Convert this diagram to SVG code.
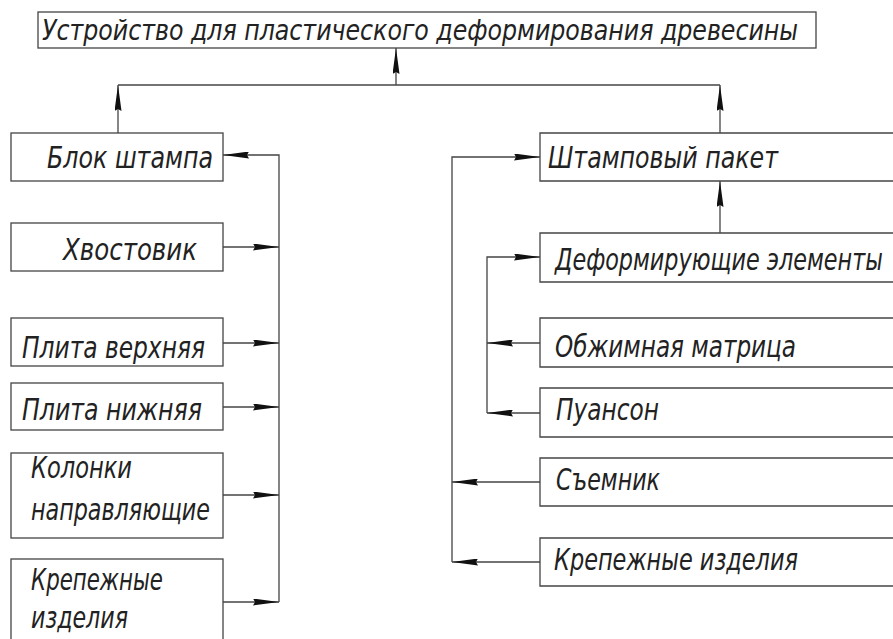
<svg xmlns="http://www.w3.org/2000/svg" width="893" height="639" viewBox="0 0 893 639">
<style>
.box{fill:#fff;stroke:#444;stroke-width:1.3}
.t{font-family:"DejaVu Sans Condensed","DejaVu Sans",sans-serif;font-style:italic;font-size:31px;fill:#222}
.tt{font-size:28px}
.c{fill:none;stroke:#444;stroke-width:1.3}
.a{marker-end:url(#ah)}
</style>
<defs>
<marker id="ah" markerUnits="userSpaceOnUse" viewBox="0 0 26 7" refX="26" refY="3.5" markerWidth="26" markerHeight="7" orient="auto">
<path d="M0,0 L26,3.5 L0,7 L2,3.5 z" fill="#111"/>
</marker>
</defs>
<rect width="893" height="639" fill="#fff"/>
<g id="connectors">
<path class="c a" d="M396,85 V48"/>
<path class="c" d="M118,85 H720"/>
<path class="c a" d="M118,133 V85"/>
<path class="c a" d="M720,133 V85"/>
<path class="c a" d="M279,602 V155 H223"/>
<path class="c a" d="M223,247 H279"/>
<path class="c a" d="M223,343 H279"/>
<path class="c a" d="M223,407 H279"/>
<path class="c a" d="M223,495 H279"/>
<path class="c a" d="M223,602 H279"/>
<path class="c a" d="M720,233 V181"/>
<path class="c a" d="M452,562 V157 H540"/>
<path class="c a" d="M540,562 H452"/>
<path class="c a" d="M540,482 H452"/>
<path class="c a" d="M487,413 V257 H540"/>
<path class="c a" d="M540,343 H487"/>
<path class="c a" d="M540,413 H487"/>
</g>
<g id="title"><rect class="box" x="38" y="12" width="778" height="36"/><text class="t tt" x="42" y="40" textLength="756" lengthAdjust="spacingAndGlyphs">Устройство для пластического деформирования древесины</text></g>
<g id="blok"><rect class="box" x="11" y="133" width="212" height="48"/><text class="t" x="47" y="168" textLength="166" lengthAdjust="spacingAndGlyphs">Блок штампа</text></g>
<g id="hvostovik"><rect class="box" x="11" y="223" width="212" height="48"/><text class="t" x="63" y="260" textLength="134" lengthAdjust="spacingAndGlyphs">Хвостовик</text></g>
<g id="plita-verh"><rect class="box" x="11" y="318" width="212" height="48"/><text class="t" x="22" y="358" textLength="183" lengthAdjust="spacingAndGlyphs">Плита верхняя</text></g>
<g id="plita-niz"><rect class="box" x="11" y="383" width="212" height="47"/><text class="t" x="22" y="420" textLength="180" lengthAdjust="spacingAndGlyphs">Плита нижняя</text></g>
<g id="kolonki"><rect class="box" x="11" y="453" width="212" height="85"/><text class="t" x="31" y="478" textLength="101" lengthAdjust="spacingAndGlyphs">Колонки</text><text class="t" x="31" y="520" textLength="179" lengthAdjust="spacingAndGlyphs">направляющие</text></g>
<g id="krep-left"><rect class="box" x="11" y="559" width="212" height="100"/><text class="t" x="31" y="590" textLength="132" lengthAdjust="spacingAndGlyphs">Крепежные</text><text class="t" x="31" y="628" textLength="97" lengthAdjust="spacingAndGlyphs">изделия</text></g>
<g id="paket"><path class="box" d="M893,133 H540 V181 H893"/><text class="t" x="548" y="168" textLength="230" lengthAdjust="spacingAndGlyphs">Штамповый пакет</text></g>
<g id="deform"><path class="box" d="M893,233 H540 V282 H893"/><text class="t" transform="translate(555,270) scale(0.8,1)">Деформирующие элементы</text></g>
<g id="matrica"><path class="box" d="M893,318 H540 V367 H893"/><text class="t" x="555" y="357" textLength="241" lengthAdjust="spacingAndGlyphs">Обжимная матрица</text></g>
<g id="puanson"><path class="box" d="M893,388 H540 V437 H893"/><text class="t" x="556" y="420" textLength="103" lengthAdjust="spacingAndGlyphs">Пуансон</text></g>
<g id="semnik"><path class="box" d="M893,458 H540 V506 H893"/><text class="t" x="556" y="490" textLength="104" lengthAdjust="spacingAndGlyphs">Съемник</text></g>
<g id="krep-right"><path class="box" d="M893,538 H540 V586 H893"/><text class="t" x="554" y="570" textLength="244" lengthAdjust="spacingAndGlyphs">Крепежные изделия</text></g>
</svg>
